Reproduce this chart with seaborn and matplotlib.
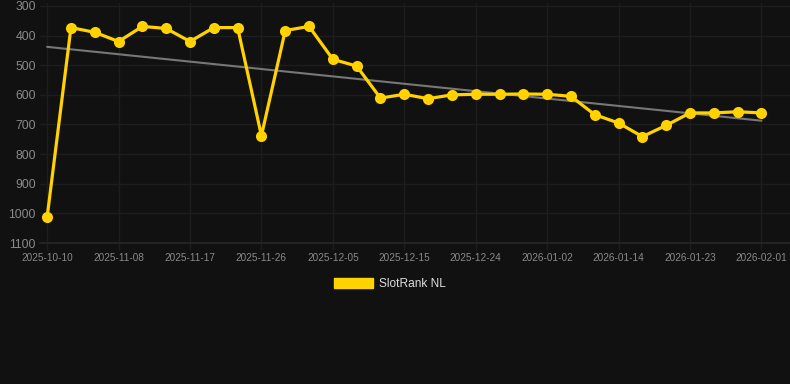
import numpy as np
import pandas as pd
import matplotlib
matplotlib.use("Agg")
import matplotlib.pyplot as plt
from matplotlib.patches import Patch
import seaborn as sns

# rank values (lower is better, axis inverted)
ranks = [1012, 373, 389, 420, 369, 376, 420, 373, 373, 738,
         383, 369, 480, 503, 611, 598, 613, 600, 598, 598,
         597, 598, 605, 667, 695, 741, 703, 661, 661, 657, 661]
tick_labels = ["2025-10-10", "2025-11-08", "2025-11-17", "2025-11-26",
               "2025-12-05", "2025-12-15", "2025-12-24", "2026-01-02",
               "2026-01-14", "2026-01-23", "2026-02-01"]
y_ticks = [300, 400, 500, 600, 700, 800, 900, 1000, 1100]
series_name = "SlotRank NL"

bg = "#111111"
grid_c = "#1d1d1d"
yellow = "#FFD200"

sns.set_theme(style="dark")
plt.rcParams["font.family"] = ["Liberation Sans", "DejaVu Sans"]

df = pd.DataFrame({"idx": np.arange(len(ranks)), "rank": ranks})

fig = plt.figure(figsize=(7.9, 3.84), dpi=100, facecolor=bg)
ax = fig.add_axes([40 / 790, 1 - 243 / 384, 1 - 40 / 790, (243 - 3) / 384])
ax.set_facecolor(bg)

sns.regplot(data=df, x="idx", y="rank", ax=ax, scatter=False, ci=None,
            line_kws={"color": "#777777", "lw": 1.5, "zorder": 2})
sns.lineplot(data=df, x="idx", y="rank", ax=ax, color=yellow, lw=2.3,
             marker="o", markersize=8, markeredgewidth=0, zorder=3)

ax.set_xlim(-0.3, 31.2)
ax.set_ylim(1100, 290)
ax.set_yticks(y_ticks)
ax.set_yticklabels([str(v) for v in y_ticks])
ax.set_xticks(np.arange(0, len(ranks), 3))
ax.set_xticklabels(tick_labels)
ax.grid(True, color=grid_c, lw=1)
ax.tick_params(axis="y", colors="#8a8a8a", labelsize=8.8, length=0, pad=3)
ax.tick_params(axis="x", colors=grid_c, labelcolor="#8a8a8a", labelsize=7.2,
               length=5, width=1, pad=2, bottom=True)
ax.set_xlabel("")
ax.set_ylabel("")
for s in ["top", "right", "left"]:
    ax.spines[s].set_visible(False)
ax.spines["bottom"].set_color("#272727")

handle = Patch(facecolor=yellow, edgecolor=yellow)
fig.legend([handle], [series_name], loc="center",
           bbox_to_anchor=(390 / 790, 1 - 284 / 384), frameon=False,
           fontsize=8.6, labelcolor="#dddddd", handlelength=3.3,
           handleheight=1.0, handletextpad=0.5)

fig.savefig("out.png", dpi=100, facecolor=bg)
